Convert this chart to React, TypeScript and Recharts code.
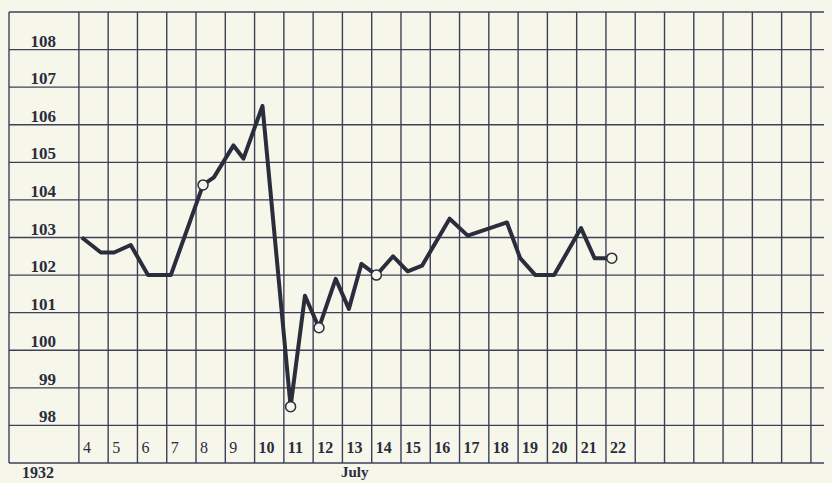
import { LineChart, Line, XAxis, YAxis, CartesianGrid } from "recharts";

// day position (fractional, readings between grid columns) and temperature
const days = [
  4.1, 4.75, 5.2, 5.77, 6.36, 7.14, 8.24, 8.61, 9.28, 9.62, 10.27, 11.23, 11.72, 12.2, 12.77,
  13.22, 13.65, 14.16, 14.73, 15.23, 15.72, 16.66, 17.28, 18.62, 19.07, 19.59, 20.23, 21.15,
  21.61, 22.2,
];
const temps = [
  103.0, 102.6, 102.6, 102.8, 102.0, 102.0, 104.4, 104.6, 105.45, 105.1, 106.5, 98.5, 101.45,
  100.6, 101.9, 101.1, 102.3, 102.0, 102.5, 102.1, 102.25, 103.5, 103.05, 103.4, 102.45, 102.0,
  102.0, 103.25, 102.45, 102.45,
];
// readings drawn as open circles
const circled = [6, 11, 13, 17, 29];

const dateLabels = [4, 5, 6, 7, 8, 9, 10, 11, 12, 13, 14, 15, 16, 17, 18, 19, 20, 21, 22];
const tempLabels = [98, 99, 100, 101, 102, 103, 104, 105, 106, 107, 108];

const data = days.map((d, i) => ({ day: d, temp: temps[i], mark: circled.includes(i) }));

const LABEL_COL = 1.613; // left edge of the label column, in day units
const X_MAX = 29.72;
const xTicks = [LABEL_COL, ...Array.from({ length: 26 }, (_, i) => 4 + i)];
const yTicks = [97, ...tempLabels, 109];

const INK = "#2a2d3b";
const GRID = "#3c4159";
const PAPER = "#f7f6ea";
const font = "'Liberation Serif', 'DejaVu Serif', serif";

const renderDateTick = (props: any) => {
  const v = props.payload.value;
  if (!dateLabels.includes(v)) return <g key={props.index} />;
  return (
    <text
      key={props.index}
      x={props.x + 4}
      y={props.y - 10}
      fill={INK}
      fontFamily={font}
      fontSize={16}
      fontWeight={v >= 10 ? 700 : 400}
    >
      {v}
    </text>
  );
};

const renderTempTick = (props: any) => {
  const v = props.payload.value;
  if (!tempLabels.includes(v)) return <g key={props.index} />;
  return (
    <text
      key={props.index}
      x={props.x + 47}
      y={props.y - 3}
      textAnchor="end"
      fill={INK}
      fontFamily={font}
      fontSize={17}
      fontWeight={700}
    >
      {v}
    </text>
  );
};

const renderDot = (props: any) => {
  const { cx, cy, payload } = props;
  if (!payload.mark) return <g key={props.index} />;
  return <circle key={props.index} cx={cx} cy={cy} r={5} fill={PAPER} stroke={INK} strokeWidth={1.5} />;
};

export default function App() {
  return (
    <div style={{ position: "relative", width: 824, height: 475, background: PAPER }}>
      <style>{`body{background:${PAPER};overflow:hidden}`}</style>
      <LineChart width={824} height={475} data={data} margin={{ top: 4, right: 0, bottom: 19, left: 0 }}>
        <CartesianGrid stroke={GRID} strokeWidth={1.4} />
        <XAxis
          dataKey="day"
          type="number"
          domain={[LABEL_COL, X_MAX]}
          ticks={xTicks}
          interval={0}
          height={1}
          axisLine={false}
          tickLine={false}
          tickSize={0}
          tickMargin={0}
          tick={renderDateTick}
          allowDataOverflow
        />
        <YAxis
          type="number"
          domain={[97, 109]}
          ticks={yTicks}
          interval={0}
          width={1}
          axisLine={false}
          tickLine={false}
          tickSize={0}
          tickMargin={0}
          tick={renderTempTick}
          allowDataOverflow
        />
        <Line
          dataKey="temp"
          stroke={INK}
          strokeWidth={4}
          strokeLinejoin="round"
          type="linear"
          dot={renderDot}
          activeDot={false}
          isAnimationActive={false}
        />
      </LineChart>
      <div style={{ position: "absolute", left: 14, top: 457, lineHeight: 1, fontFamily: font, fontWeight: 700, fontSize: 16, color: INK }}>
        1932
      </div>
      <div style={{ position: "absolute", left: 333, top: 457, lineHeight: 1, fontFamily: font, fontWeight: 700, fontSize: 15, color: INK }}>
        July
      </div>
    </div>
  );
}
